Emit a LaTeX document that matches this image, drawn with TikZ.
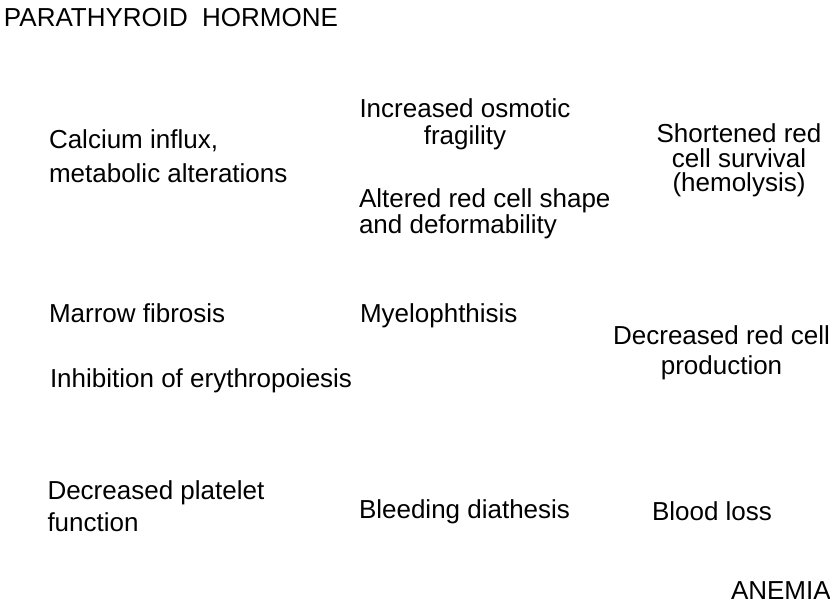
\documentclass[tikz,border=0pt]{standalone}
\usepackage{fontspec}
\setmainfont{Liberation Sans}
\newcommand\linesC[1]{\vtop{\halign{\hfil##\hfil\cr#1\crcr}}}
\newcommand\linesL[1]{\vtop{\halign{##\hfil\cr#1\crcr}}}
\tikzset{
  lbl/.style={inner sep=0pt, outer sep=0pt, text=black, font=\fontsize{26}{26}\selectfont},
  lblL/.style={lbl, anchor=base west},
  lblC/.style={lbl, anchor=base},
}
\begin{document}
\begin{tikzpicture}[x=1pt, y=-1pt]
\useasboundingbox[fill=white] (0,0) rectangle (830,604);
\node[lblL] (pth) at (4,27) {PARATHYROID\hspace{7pt} HORMONE};
\node[lblL, font=\fontsize{26}{34}\selectfont] (calcium) at (49,149)
  {\linesL{Calcium influx,\cr metabolic alterations}};
\node[lblC, font=\fontsize{26}{27.5}\selectfont] (osmotic) at (465,117.5)
  {\linesC{Increased osmotic\cr fragility}};
\node[lblL, font=\fontsize{26}{25}\selectfont] (altered) at (359,208)
  {\linesL{Altered red cell shape\cr and deformability}};
\node[lblC, font=\fontsize{26}{24.5}\selectfont] (shortened) at (739,143)
  {\linesC{Shortened red\cr cell survival\cr (hemolysis)}};
\node[lblL] (marrow) at (49,322) {Marrow fibrosis};
\node[lblL] (myelo) at (360,322) {Myelophthisis};
\node[lblL] (inhibition) at (50,387) {Inhibition of erythropoiesis};
\node[lblC, font=\fontsize{26}{30}\selectfont] (decreasedred) at (721.5,344)
  {\linesC{Decreased red cell\cr production}};
\node[lblL, font=\fontsize{26}{32}\selectfont] (platelet) at (47.5,499.5)
  {\linesL{Decreased platelet\cr function}};
\node[lblL] (bleeding) at (359,518) {Bleeding diathesis};
\node[lblL] (bloodloss) at (652,520) {Blood loss};
\node[lblL] (anemia) at (731,599) {ANEMIA};
\end{tikzpicture}
\end{document}
